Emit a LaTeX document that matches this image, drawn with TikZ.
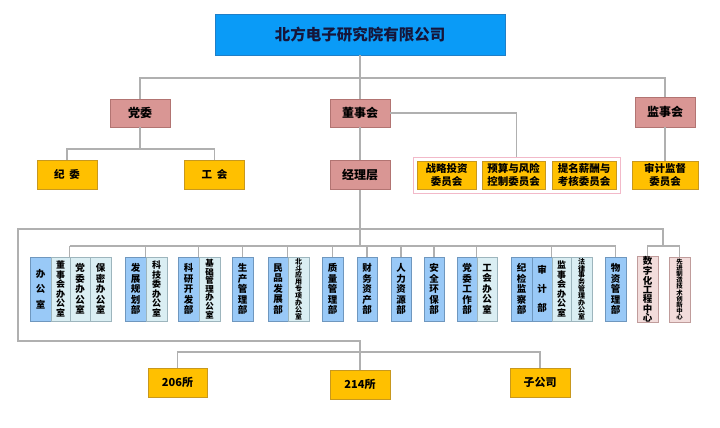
\documentclass[tikz,border=0pt]{standalone}
\usepackage{fontspec}
\newfontfamily\cjk{Noto Sans CJK SC}
\definecolor{topBlue}{HTML}{0A9BF7}
\definecolor{topBorder}{HTML}{1F7FC8}
\definecolor{titleInk}{HTML}{16163A}
\definecolor{rose}{HTML}{D99694}
\definecolor{roseB}{HTML}{B27472}
\definecolor{gold}{HTML}{FFC000}
\definecolor{goldB}{HTML}{C8981E}
\definecolor{deptBlue}{HTML}{99C9F7}
\definecolor{deptBlueB}{HTML}{6F97BE}
\definecolor{deptLight}{HTML}{DAEEF3}
\definecolor{deptLightB}{HTML}{9DB5BD}
\definecolor{deptPink}{HTML}{F2DCDB}
\definecolor{deptPinkB}{HTML}{C09C9B}
\definecolor{lineGray}{HTML}{B0B0B0}
\definecolor{grpPink}{HTML}{F2B9C9}
\begin{document}
\begin{tikzpicture}[x=1pt,y=-1pt,
  box/.style={draw, line width=0.7pt, inner sep=0pt, align=center, text=black},
  fs/.style n args={2}{font=\cjk\bfseries\fontsize{#1}{#2}\selectfont},
  tbox/.style={box, fill=topBlue, draw=topBorder, text=titleInk},
  rbox/.style={box, fill=rose, draw=roseB, minimum width=60pt, minimum height=28pt, fs={12}{14}},
  obox/.style={box, fill=gold, draw=goldB, minimum width=60pt, minimum height=29pt, fs={10.5}{12.5}},
  dB/.style={box, fill=deptBlue, draw=deptBlueB, minimum width=21pt, minimum height=64pt},
  dL/.style={box, fill=deptLight, draw=deptLightB, minimum width=21pt, minimum height=64pt},
  dP/.style={box, fill=deptPink, draw=deptPinkB, minimum width=21pt, minimum height=65pt},
  conn/.style={draw=lineGray, line width=1.1pt}
]
\useasboundingbox[fill=white] (0,0) rectangle (720,428);

% ---- top ----
\node[tbox, minimum width=290pt, minimum height=41pt, fs={15.5}{18}] (top) at (360,34.5) {北方电子研究院有限公司};

\node[rbox] (dw) at (140,113) {党委};
\node[rbox] (dsh) at (360,113) {董事会};
\node[rbox, minimum height=30pt] (jsh) at (665,112) {监事会};

\node[obox] (jw) at (67,174.5) {纪\ \ 委};
\node[obox] (gh) at (214.5,174.5) {工\ \ 会};
\node[rbox, minimum height=29pt] (jlc) at (360,175) {经理层};

\node[draw=grpPink, line width=1pt, fill=white, minimum width=207pt, minimum height=36pt, inner sep=0pt] (grp) at (516.5,175) {};
\node[obox, minimum width=59pt, minimum height=28pt] (zltz) at (446.5,175) {战略投资\\委员会};
\node[obox, minimum width=63pt, minimum height=28pt] (yskz) at (513.5,175) {预算与风险\\控制委员会};
\node[obox, minimum width=64pt, minimum height=28pt] (tmxc) at (584,175) {提名薪酬与\\考核委员会};
\node[obox, minimum width=66pt, minimum height=28pt] (sjjd) at (665,175) {审计监督\\委员会};

% ---- departments ----
\node[dB, fs={9.5}{15.5}] (bgs) at (40.5,289) {办\\公\\室};
\node[dL, minimum width=19pt, fs={9}{9.6}] (dsbgs) at (60.5,289) {董\\事\\会\\办\\公\\室};
\node[dL, minimum width=20pt, fs={9.5}{10.5}] (dwbgs) at (80,289) {党\\委\\办\\公\\室};
\node[dL, fs={9.5}{10.5}] (bmbgs) at (100.5,289) {保\\密\\办\\公\\室};
\node[dB, fs={9.5}{10.5}] (fzgh) at (135.5,289) {发\\展\\规\\划\\部};
\node[dL, fs={9}{9.6}] (kjw) at (156.5,289) {科\\技\\委\\办\\公\\室};
\node[dB, fs={9.5}{10.5}] (kykf) at (188.5,289) {科\\研\\开\\发\\部};
\node[dL, fs={8.5}{8.6}] (jcgl) at (209.5,289) {基\\础\\管\\理\\办\\公\\室};
\node[dB, fs={9.5}{10.5}] (scgl) at (242.5,289) {生\\产\\管\\理\\部};
\node[dB, minimum width=20pt, fs={9.5}{10.5}] (mpfz) at (278,289) {民\\品\\发\\展\\部};
\node[dL, fs={7}{6.9}] (bdyy) at (298.5,289) {北\\斗\\应\\用\\专\\项\\办\\公\\室};
\node[dB, fs={9.5}{10.5}] (zlgl) at (332.5,289) {质\\量\\管\\理\\部};
\node[dB, minimum width=20pt, fs={9.5}{10.5}] (cwzc) at (367,289) {财\\务\\资\\产\\部};
\node[dB, minimum width=20pt, fs={9.5}{10.5}] (rlzy) at (401,289) {人\\力\\资\\源\\部};
\node[dB, minimum width=20pt, fs={9.5}{10.5}] (aqhb) at (434,289) {安\\全\\环\\保\\部};
\node[dB, minimum width=20pt, fs={9.5}{10.5}] (dwgz) at (467,289) {党\\委\\工\\作\\部};
\node[dL, minimum width=20pt, fs={9.5}{10.5}] (ghbgs) at (487,289) {工\\会\\办\\公\\室};
\node[dB, fs={9.5}{10.5}] (jjjc) at (521.5,289) {纪\\检\\监\\察\\部};
\node[dB, minimum width=20pt, fs={9.5}{19}] (sjb) at (542,289) {审\\计\\部};
\node[dL, minimum width=19pt, fs={9}{9.6}] (jshbgs) at (561.5,289) {监\\事\\会\\办\\公\\室};
\node[dL, fs={7}{6.9}] (flsw) at (581.5,289) {法\\律\\事\\务\\管\\理\\办\\公\\室};
\node[dB, fs={9.5}{10.5}] (wzgl) at (615.5,289) {物\\资\\管\\理\\部};
\node[dP, fs={9.5}{9}] (szh) at (647.5,289.5) {数\\字\\化\\工\\程\\中\\心};
\node[dP, fs={6.4}{6.2}] (xjzz) at (679.5,289.5) {先\\进\\制\\造\\技\\术\\创\\新\\中\\心};

% ---- bottom ----
\node[obox, minimum width=59pt, fs={11}{13}] (s206) at (177.5,382.5) {206所};
\node[obox, fs={11}{13}] (s214) at (360,384.5) {214所};
\node[obox, fs={11}{13}] (zgs) at (540,382.5) {子公司};

% ---- coordinates ----
\coordinate (h78) at (0,78);
\coordinate (h149) at (0,149);
\coordinate (m246) at (360,246);
\coordinate (fTR) at (663,229);
\coordinate (fTL) at (18,229);
\coordinate (fBL) at (18,341);
\coordinate (fB) at (360,341);
\coordinate (bh) at (360,352);
\coordinate (pkh) at (663,246);

% ---- connectors ----
\draw[conn] (top.south) -- (dsh.north);
\draw[conn] (dw.north) -- (dw.north |- h78) -- (jsh.north |- h78) -- (jsh.north);
\draw[conn] (dw.south) -- (dw.south |- h149);
\draw[conn] (jw.north) -- (jw.north |- h149) -- (gh.north |- h149) -- (gh.north);
\draw[conn] (dsh.east) -| (grp.north);
\draw[conn] (dsh.south) -- (jlc.north);
\draw[conn] (jsh.south) -- (sjjd.north);
\draw[conn] (jlc.south) -- (m246);
\draw[conn] (dwbgs.north west |- m246) -- (wzgl.north |- m246);
\foreach \a in {dwbgs.north west, kjw.north west, jcgl.north west, scgl.north, bdyy.north west, zlgl.north, cwzc.north, rlzy.north, aqhb.north, ghbgs.north west, jshbgs.north west, wzgl.north}
  \draw[conn] (\a) -- (\a |- m246);
\draw[conn] (pkh) -- (fTR) -- (fTL) -- (fBL) -- (fB) -- (s214.north);
\draw[conn] (szh.north) -- (szh.north |- pkh) -- (xjzz.north |- pkh) -- (xjzz.north);
\draw[conn] (s206.north) |- (bh) -| (zgs.north);
\end{tikzpicture}
\end{document}
